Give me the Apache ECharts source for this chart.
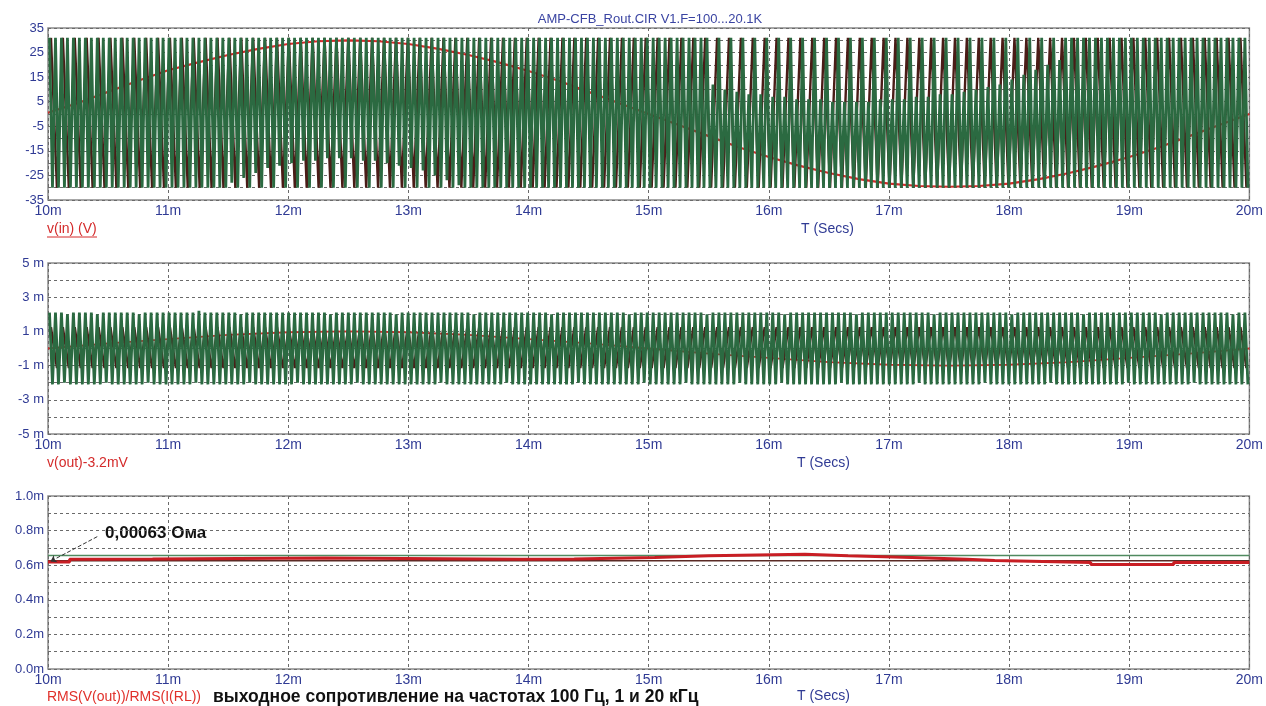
<!DOCTYPE html>
<html><head><meta charset="utf-8">
<script src="https://cdn.jsdelivr.net/npm/echarts@6/dist/echarts.min.js"></script>
<style>html,body{margin:0;padding:0;background:#fff}#c{width:1266px;height:706px}</style>
</head><body><div id="c"></div>
<script>
// ---------- DATA ----------
const xTickLabels = ['10m','11m','12m','13m','14m','15m','16m','17m','18m','19m','20m'];
const fGreenKHz = 20.1;   // V1.F = 20.1K trace
const fBrownKHz = 10.1;   // V1.F = 10.1K trace
const redStepMs = 0.25;   // sample spacing of the 100 Hz traces (top)
const redMidStepMs = 0.5; // sample spacing of the 100 Hz trace (middle)

// top panel: v(in), 100 Hz trace
const vinRed = [0.5,4.5,9,13.5,17.8,21,24,26.5,28.5,29.6,30,29.6,28.5,26.5,24,21,17.5,13.5,9,4.5,
  0,-4.5,-9,-13.5,-17.5,-21,-24,-26.5,-28.3,-29.3,-29.6,-29.3,-28.3,-26.5,-24,-21,-17.5,-13.5,-9,-4.5,0];
// top panel: 20.1 kHz trace, per-cycle peak / trough as drawn
const vinGreenHi = [
 31,31,31,31,31,31,31,31,31,31,31,31,31,31,31,31,31,31,31,31,
 31,31,31,31,31,31,31,31,31,31,31,31,31,31,31,31,31,31,31,31,
 31,31,31,31,31,31,31,31,31,31,31,31,31,31,31,31,31,31,31,31,
 31,31,31,31,31,31,31,31,31,31,31,31,31,31,31,31,31,31,31,31,
 31,31,31,31,31,31,31,31,31,31,31,31,31,31,31,31,31,31,31,31,
 31,31,31,31,31,31,31,31,31,31,31,12,31,10,31,9,31,8,31,8,
 31,7,31,7,31,6,31,6,31,6,31,5,31,5,31,5,31,5,31,6,
 31,6,31,6,31,7,31,7,31,8,31,8,31,9,31,10,31,11,31,12,
 31,14,31,16,31,18,31,20,31,22,31,31,31,31,31,31,31,31,31,31,
 31,31,31,31,31,31,31,31,31,31,31,31,31,31,31,31,31,31,31,31,
 31];
const vinGreenLo = [
 -30,-30,-30,-30,-30,-30,-30,-30,-30,-30,-30,-30,-30,-30,-30,-30,-30,-30,-30,-30,
 -30,-30,-30,-30,-30,-30,-30,-30,-30,-30,-28,-30,-26,-30,-24,-30,-22,-30,-21,-30,
 -20,-30,-19,-30,-19,-30,-18,-30,-18,-30,-18,-30,-19,-30,-19,-30,-20,-30,-21,-30,
 -22,-30,-23,-30,-25,-30,-27,-30,-29,-30,-30,-30,-30,-30,-30,-30,-30,-30,-30,-30,
 -30,-30,-30,-30,-30,-30,-30,-30,-30,-30,-30,-30,-30,-30,-30,-30,-30,-30,-30,-30,
 -30,-30,-30,-30,-30,-30,-30,-30,-30,-30,-30,-30,-30,-30,-30,-30,-30,-30,-30,-30,
 -30,-30,-30,-30,-30,-30,-30,-30,-30,-30,-30,-30,-30,-30,-30,-30,-30,-30,-30,-30,
 -30,-30,-30,-30,-30,-30,-30,-30,-30,-30,-30,-30,-30,-30,-30,-30,-30,-30,-30,-30,
 -30,-30,-30,-30,-30,-30,-30,-30,-30,-30,-30,-30,-30,-30,-30,-30,-30,-30,-30,-30,
 -30,-30,-30,-30,-30,-30,-30,-30,-30,-30,-30,-30,-30,-30,-30,-30,-30,-30,-30,-30,
 -30];
// top panel: 10.1 kHz trace
const vinBrownHi = [
 31,31,31,31,31,31,31,31,31,31, 31,31,31,31,31,31,31,31,31,31,
 31,31,31,31,31,31,31,31,31,31, 31,31,31,31,31,31,31,31,31,31,
 31,31,31,31,31,31,31,31,31,31, 31,31,31,31,31,31,31,31,31,31,
 31,31,31,31,31,31,31,31,31,31, 31,31,31,31,31,31,31,31,31,31,
 31,31,31,31,31,31,31,31,31,31, 31,31,31,31,31,31,31,31,31,31,
 31];
const vinBrownLo = [
 -30,-30,-30,-30,-30,-30,-30,-30,-30,-30, -30,-30,-30,-30,-30,-30,-30,-30,-30,-30,
 -30,-30,-30,-30,-30,-30,-30,-30,-30,-30, -30,-30,-30,-30,-30,-30,-30,-30,-30,-30,
 -30,-30,-30,-30,-30,-30,-30,-30,-30,-30, -30,-30,-30,-30,-30,-30,-30,-30,-30,-30,
 -30,-30,-30,-30,-30,-30,-30,-30,-30,-30, -30,-30,-30,-30,-30,-30,-30,-30,-30,-30,
 -30,-30,-30,-30,-30,-30,-30,-30,-30,-30, -30,-30,-30,-30,-30,-30,-30,-30,-30,-30,
 -30];

// middle panel: v(out)-3.2mV (values in mV)
const voutRed = [0,0.3,0.55,0.8,0.95,1.0,0.95,0.8,0.55,0.3,0,-0.3,-0.55,-0.8,-0.95,-1.0,-0.95,-0.8,-0.55,-0.3,0];
const voutGreenHi = [
 2.1,2.1,2.1,2.0,2.1,2.1,2.1,2.1,2.0,2.1,2.1,2.1,2.1,2.1,2.1,2.0,2.1,2.1,2.1,2.1,
 2.1,2.1,2.1,2.1,2.1,2.2,2.1,2.1,2.1,2.1,2.1,2.1,2.0,2.1,2.1,2.1,2.1,2.1,2.1,2.1,
 2.1,2.1,2.1,2.1,2.1,2.1,2.1,2.0,2.1,2.1,2.1,2.1,2.1,2.1,2.1,2.1,2.1,2.1,2.0,2.1,
 2.1,2.1,2.1,2.1,2.1,2.1,2.1,2.1,2.1,2.1,2.1,2.0,2.1,2.1,2.1,2.1,2.1,2.1,2.1,2.1,
 2.1,2.1,2.1,2.1,2.0,2.1,2.1,2.1,2.1,2.1,2.1,2.1,2.1,2.1,2.1,2.1,2.1,2.0,2.1,2.1,
 2.1,2.1,2.1,2.1,2.1,2.1,2.1,2.1,2.1,2.1,2.0,2.1,2.1,2.1,2.1,2.1,2.1,2.1,2.1,2.1,
 2.1,2.1,2.1,2.0,2.1,2.1,2.1,2.1,2.1,2.1,2.1,2.1,2.1,2.1,2.1,2.0,2.1,2.1,2.1,2.1,
 2.1,2.1,2.1,2.1,2.1,2.1,2.1,2.1,2.0,2.1,2.1,2.1,2.1,2.1,2.1,2.1,2.1,2.1,2.1,2.1,
 2.1,2.0,2.1,2.1,2.1,2.1,2.1,2.1,2.1,2.1,2.1,2.1,2.1,2.0,2.1,2.1,2.1,2.1,2.1,2.1,
 2.1,2.1,2.1,2.1,2.1,2.1,2.0,2.1,2.1,2.1,2.1,2.1,2.1,2.1,2.1,2.1,2.1,2.1,2.0,2.1,
 2.1];
const voutGreenLo = [
 -2.1,-2.1,-2.0,-2.1,-2.1,-2.1,-2.1,-2.1,-2.1,-2.0,-2.1,-2.1,-2.1,-2.1,-2.1,-2.1,-2.0,-2.1,-2.1,-2.1,
 -2.1,-2.1,-2.1,-2.1,-2.0,-2.1,-2.1,-2.1,-2.1,-2.1,-2.1,-2.1,-2.1,-2.0,-2.1,-2.1,-2.1,-2.1,-2.1,-2.1,
 -2.1,-2.0,-2.1,-2.1,-2.1,-2.1,-2.1,-2.1,-2.1,-2.1,-2.1,-2.0,-2.1,-2.1,-2.1,-2.1,-2.1,-2.1,-2.1,-2.1,
 -2.1,-2.1,-2.1,-2.1,-2.1,-2.0,-2.1,-2.1,-2.1,-2.1,-2.1,-2.1,-2.1,-2.1,-2.1,-2.1,-2.0,-2.1,-2.1,-2.1,
 -2.1,-2.1,-2.1,-2.1,-2.1,-2.1,-2.1,-2.1,-2.0,-2.1,-2.1,-2.1,-2.1,-2.1,-2.1,-2.1,-2.1,-2.1,-2.1,-2.0,
 -2.1,-2.1,-2.1,-2.1,-2.1,-2.1,-2.0,-2.1,-2.1,-2.1,-2.1,-2.1,-2.1,-2.1,-2.1,-2.0,-2.1,-2.1,-2.1,-2.1,
 -2.1,-2.1,-2.0,-2.1,-2.1,-2.1,-2.1,-2.1,-2.1,-2.1,-2.1,-2.1,-2.0,-2.1,-2.1,-2.1,-2.1,-2.1,-2.1,-2.1,
 -2.1,-2.1,-2.1,-2.1,-2.1,-2.0,-2.1,-2.1,-2.1,-2.1,-2.1,-2.1,-2.1,-2.1,-2.1,-2.1,-2.0,-2.1,-2.1,-2.1,
 -2.1,-2.1,-2.1,-2.1,-2.1,-2.1,-2.1,-2.0,-2.1,-2.1,-2.1,-2.1,-2.1,-2.1,-2.1,-2.1,-2.1,-2.1,-2.1,-2.1,
 -2.0,-2.1,-2.1,-2.1,-2.1,-2.1,-2.1,-2.1,-2.1,-2.1,-2.1,-2.0,-2.1,-2.1,-2.1,-2.1,-2.1,-2.1,-2.1,-2.1,
 -2.1];
const voutBrownHi = [
 1.25,1.25,1.25,1.25,1.25,1.25,1.25,1.25,1.25,1.25, 1.25,1.25,1.25,1.25,1.25,1.25,1.25,1.25,1.25,1.25,
 1.25,1.25,1.25,1.25,1.25,1.25,1.25,1.25,1.25,1.25, 1.25,1.25,1.25,1.25,1.25,1.25,1.25,1.25,1.25,1.25,
 1.25,1.25,1.25,1.25,1.25,1.25,1.25,1.25,1.25,1.25, 1.25,1.25,1.25,1.25,1.25,1.25,1.25,1.25,1.25,1.25,
 1.25,1.25,1.25,1.25,1.25,1.25,1.25,1.25,1.25,1.25, 1.25,1.25,1.25,1.25,1.25,1.25,1.25,1.25,1.25,1.25,
 1.25,1.25,1.25,1.25,1.25,1.25,1.25,1.25,1.25,1.25, 1.25,1.25,1.25,1.25,1.25,1.25,1.25,1.25,1.25,1.25,
 1.25];
const voutBrownLo = [
 -1.15,-1.15,-1.15,-1.15,-1.15,-1.15,-1.15,-1.15,-1.15,-1.15, -1.15,-1.15,-1.15,-1.15,-1.15,-1.15,-1.15,-1.15,-1.15,-1.15,
 -1.15,-1.15,-1.15,-1.15,-1.15,-1.15,-1.15,-1.15,-1.15,-1.15, -1.15,-1.15,-1.15,-1.15,-1.15,-1.15,-1.15,-1.15,-1.15,-1.15,
 -1.15,-1.15,-1.15,-1.15,-1.15,-1.15,-1.15,-1.15,-1.15,-1.15, -1.15,-1.15,-1.15,-1.15,-1.15,-1.15,-1.15,-1.15,-1.15,-1.15,
 -1.15,-1.15,-1.15,-1.15,-1.15,-1.15,-1.15,-1.15,-1.15,-1.15, -1.15,-1.15,-1.15,-1.15,-1.15,-1.15,-1.15,-1.15,-1.15,-1.15,
 -1.15,-1.15,-1.15,-1.15,-1.15,-1.15,-1.15,-1.15,-1.15,-1.15, -1.15,-1.15,-1.15,-1.15,-1.15,-1.15,-1.15,-1.15,-1.15,-1.15,
 -1.15];

// bottom panel: RMS(V(out))/RMS(I(RL)) in mOhm
const rmsGreenT = [10, 20];
const rmsGreenV = [0.656, 0.656];
const rmsBrownT = [10, 20];
const rmsBrownV = [0.626, 0.626];
const rmsRedT = [10.0,10.18,10.39,10.87,12.31,13.93,14.38,15.05,15.5,16.3,16.66,17.19,17.65,17.88,18.68,19.37,20.0];
const rmsRedV = [0.619,0.635,0.636,0.642,0.634,0.636,0.645,0.655,0.664,0.655,0.645,0.635,0.627,0.616,0.604,0.616,0.616];
const annotArrow = [[10.41, 0.765], [10.02, 0.622]];

// ---------- BUILD ----------
function wave(hi, lo, fk) {
  const pts = [];
  for (let i = 0; i < hi.length; i++) {
    pts.push([10 + (0.25 + i) / fk, hi[i]]);
    pts.push([10 + (0.75 + i) / fk, lo[i]]);
  }
  return pts;
}
function sampled(vals, step) { return vals.map((v, i) => [10 + i * step, v]); }
function pairs(t, v) { return t.map((x, i) => [x, v[i]]); }

const BLUE = '#2f3a94';
const FONT = '"Liberation Sans", Arial, sans-serif';
const GREEN = '#2b6a41', BROWN = '#4a1c17', RED = '#d42a2a';

const grids = [
  {left: 48, top: 28, width: 1208, height: 172},
  {left: 48, top: 263, width: 1208, height: 171},
  {left: 48, top: 496, width: 1208, height: 173}
].map(g => Object.assign(g, {show: true, borderColor: '#8a8a8a', borderWidth: 1.5, containLabel: false}));

const splitDash = {show: true, lineStyle: {color: '#6a6a6a', type: [3, 3], width: 1}};
function xAx(i) {
  return {type: 'value', gridIndex: i, min: 10, max: 20, interval: 1,
    axisLine: {show: false}, axisTick: {show: false}, splitLine: splitDash,
    axisLabel: {margin: 4, color: BLUE, fontSize: 14, fontFamily: FONT,
      formatter: v => xTickLabels[Math.round(v - 10)]}};
}
function yAx(i, min, max, interval, fmt) {
  return {type: 'value', gridIndex: i, min, max, interval,
    axisLine: {show: false}, axisTick: {show: false}, splitLine: splitDash,
    axisLabel: {margin: 4, color: BLUE, fontSize: 13, fontFamily: FONT, formatter: fmt}};
}
const lineBase = {type: 'line', showSymbol: false, symbol: 'none', animation: false, silent: true};

const option = {
  backgroundColor: '#fff',
  animation: false,
  grid: grids,
  xAxis: [xAx(0), xAx(1), xAx(2)],
  yAxis: [
    yAx(0, -35, 35, 5, v => ((v + 35) % 10 === 0 ? String(v) : '')),
    yAx(1, -5, 5, 1, v => (Math.abs(Math.round(v)) % 2 === 1 ? v + ' m' : '')),
    yAx(2, 0, 1, 0.1, v => (Math.round(v * 10) % 2 === 0 ? v.toFixed(1) + 'm' : ''))
  ],
  series: [
    Object.assign({}, lineBase, {xAxisIndex: 0, yAxisIndex: 0, data: sampled(vinRed, redStepMs), lineStyle: {color: RED, width: 2.2}, z: 2}),
    Object.assign({}, lineBase, {xAxisIndex: 0, yAxisIndex: 0, data: wave(vinBrownHi, vinBrownLo, fBrownKHz), lineStyle: {color: BROWN, width: 2.4, join: 'bevel'}, z: 3}),
    Object.assign({}, lineBase, {xAxisIndex: 0, yAxisIndex: 0, data: wave(vinGreenHi, vinGreenLo, fGreenKHz), lineStyle: {color: GREEN, width: 2.8, join: 'bevel'}, z: 4}),

    Object.assign({}, lineBase, {xAxisIndex: 1, yAxisIndex: 1, data: sampled(voutRed, redMidStepMs), lineStyle: {color: RED, width: 1.8}, z: 2}),
    Object.assign({}, lineBase, {xAxisIndex: 1, yAxisIndex: 1, data: wave(voutBrownHi, voutBrownLo, fBrownKHz), lineStyle: {color: BROWN, width: 2.4, join: 'bevel'}, z: 3}),
    Object.assign({}, lineBase, {xAxisIndex: 1, yAxisIndex: 1, data: wave(voutGreenHi, voutGreenLo, fGreenKHz), lineStyle: {color: GREEN, width: 2.8, join: 'bevel'}, z: 4}),

    Object.assign({}, lineBase, {xAxisIndex: 2, yAxisIndex: 2, data: pairs(rmsGreenT, rmsGreenV), lineStyle: {color: '#4f8a5f', width: 1.5}, z: 2}),
    Object.assign({}, lineBase, {xAxisIndex: 2, yAxisIndex: 2, data: pairs(rmsBrownT, rmsBrownV), lineStyle: {color: '#5a2a25', width: 1.5}, z: 3}),
    Object.assign({}, lineBase, {xAxisIndex: 2, yAxisIndex: 2, step: 'end', data: pairs(rmsRedT, rmsRedV), lineStyle: {color: '#c81e24', width: 3}, z: 4,
      markLine: {silent: true, symbol: ['none', 'arrow'], symbolSize: 6, animation: false, label: {show: false},
        lineStyle: {color: '#333', width: 1, type: [4, 2]},
        data: [[{coord: annotArrow[0]}, {coord: annotArrow[1]}]]}})
  ],
  graphic: [
    {type: 'text', x: 650, y: 19, style: {text: 'AMP-CFB_Rout.CIR V1.F=100...20.1K', fill: '#3a44a2', font: '13px ' + FONT, textAlign: 'center', textVerticalAlign: 'middle'}},
    {type: 'text', x: 47, y: 229, style: {text: 'v(in) (V)', fill: '#d42a2a', font: '14px ' + FONT, textVerticalAlign: 'middle'}},
    {type: 'line', shape: {x1: 47, y1: 237, x2: 97, y2: 237}, style: {stroke: '#d42a2a', lineWidth: 1}},
    {type: 'text', x: 801, y: 229, style: {text: 'T (Secs)', fill: BLUE, font: '14px ' + FONT, textVerticalAlign: 'middle'}},
    {type: 'text', x: 47, y: 463, style: {text: 'v(out)-3.2mV', fill: '#d42a2a', font: '14px ' + FONT, textVerticalAlign: 'middle'}},
    {type: 'text', x: 797, y: 463, style: {text: 'T (Secs)', fill: BLUE, font: '14px ' + FONT, textVerticalAlign: 'middle'}},
    {type: 'text', x: 47, y: 697, style: {text: 'RMS(V(out))/RMS(I(RL))', fill: '#e0302a', font: '14px ' + FONT, textVerticalAlign: 'middle'}},
    {type: 'text', x: 213, y: 697, style: {text: 'выходное сопротивление на частотах 100 Гц, 1 и 20 кГц', fill: '#111', font: 'bold 17.5px ' + FONT, textVerticalAlign: 'middle'}},
    {type: 'text', x: 797, y: 696, style: {text: 'T (Secs)', fill: BLUE, font: '14px ' + FONT, textVerticalAlign: 'middle'}},
    {type: 'text', x: 105, y: 533, style: {text: '0,00063 Ома', fill: '#111', font: 'bold 17px ' + FONT, textVerticalAlign: 'middle'}}
  ]
};
const chart = echarts.init(document.getElementById('c'), null, {renderer: 'canvas'});
chart.setOption(option);
</script>
</body></html>
